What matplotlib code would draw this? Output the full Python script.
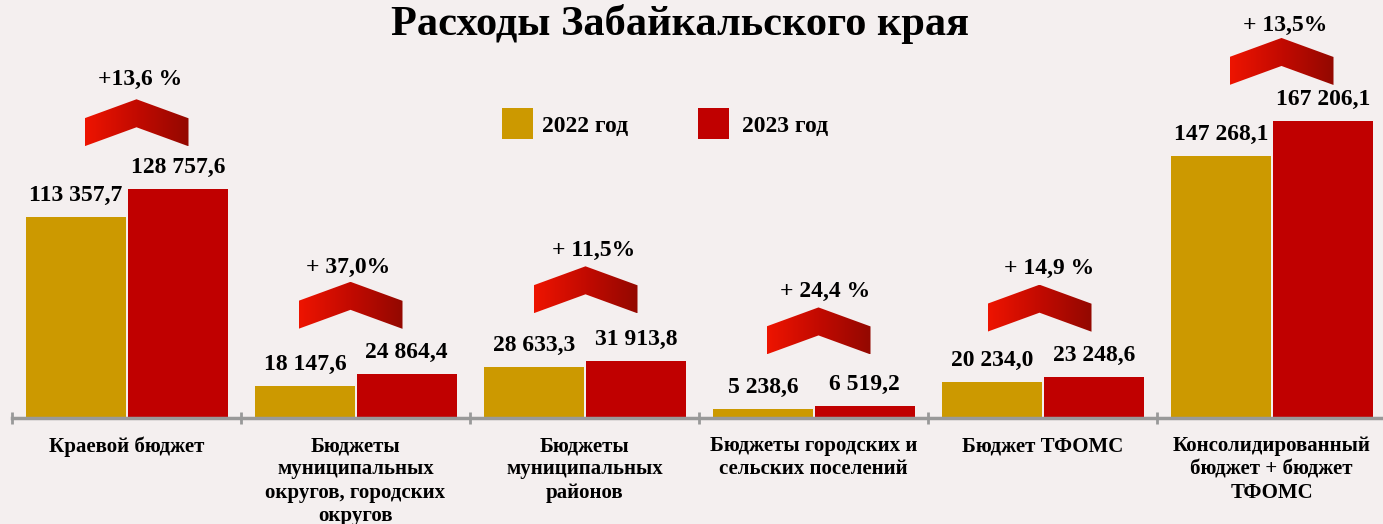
import numpy as np
import matplotlib
matplotlib.use('Agg')
import matplotlib.pyplot as plt
from matplotlib.patches import Polygon, Rectangle
from matplotlib.colors import LinearSegmentedColormap

plt.rcParams['font.family'] = ['Liberation Serif', 'DejaVu Serif']
plt.rcParams['font.weight'] = 'bold'

# data
categories = ['Краевой бюджет',
              'Бюджеты\nмуниципальных\nокругов, городских\nокругов',
              'Бюджеты\nмуниципальных\nрайонов',
              'Бюджеты городских и\nсельских поселений',
              'Бюджет ТФОМС',
              'Консолидированный\nбюджет + бюджет\nТФОМС']
values_2022 = [113357.7, 18147.6, 28633.3, 5238.6, 20234.0, 147268.1]
values_2023 = [128757.6, 24864.4, 31913.8, 6519.2, 23248.6, 167206.1]
labels_2022 = ['113 357,7', '18 147,6', '28 633,3', '5 238,6', '20 234,0', '147 268,1']
labels_2023 = ['128 757,6', '24 864,4', '31 913,8', '6 519,2', '23 248,6', '167 206,1']
growth = ['+13,6 %', '+ 37,0%', '+ 11,5%', '+ 24,4 %', '+ 14,9 %', '+ 13,5%']

# arrow placement tweaks (pixels)
arrow_dx = [10, -5, 1, 5, -3, 10]
arrow_gap = [43, 45, 48, 52, 45, 36]
text_dx = [14, -7, 9, 12, 7, 14]
text_dy = [67, 61, 63, 63, 63, 60]

gold = '#CC9900'
red = '#C00000'
bg = '#F4EFEF'

W, H = 1383, 524
fig = plt.figure(figsize=(W / 100, H / 100), dpi=100, facecolor=bg)
ax = fig.add_axes([12 / W, 106 / H, 1374 / W, 418 / H])
ax.set_facecolor('none')

ymax = 235300
px = ymax / 418.0  # data units per pixel vertically
xpx = 1 / 229.0    # data units per pixel horizontally

x = np.arange(len(categories))
ax.bar(x - 0.221, values_2022, width=0.436, color=gold, zorder=2)
ax.bar(x + 0.224, values_2023, width=0.436, color=red, zorder=2)

for i in range(len(x)):
    ax.annotate(labels_2022[i], (x[i] - 0.221, values_2022[i]), xytext=(0, 8),
                textcoords='offset points', ha='center', va='bottom', fontsize=17)
    ax.annotate(labels_2023[i], (x[i] + 0.224, values_2023[i]), xytext=(0, 8),
                textcoords='offset points', ha='center', va='bottom', fontsize=17)

# chevron arrows with gradient
cmap = LinearSegmentedColormap.from_list('arr', ['#EE1400', '#C20A00', '#930800'])
grad = np.linspace(0, 1, 256).reshape(1, -1)
for i in range(len(x)):
    base = max(values_2022[i], values_2023[i]) + arrow_gap[i] * px
    hw = 52 * xpx
    cx = x[i] + arrow_dx[i] * xpx
    pts = [(cx - hw, base), (cx - hw, base + 28 * px), (cx, base + 47 * px),
           (cx + hw, base + 28 * px), (cx + hw, base), (cx, base + 19 * px)]
    poly = Polygon(pts, closed=True, facecolor='none', edgecolor='none', zorder=3)
    ax.add_patch(poly)
    im = ax.imshow(grad, cmap=cmap, extent=[cx - hw, cx + hw, base, base + 47 * px],
                   aspect='auto', zorder=3, interpolation='bilinear')
    im.set_clip_path(poly)
    ax.text(x[i] + text_dx[i] * xpx, base + text_dy[i] * px, growth[i],
            ha='center', va='center', fontsize=17)

ax.set_xlim(-0.5, len(x) - 0.5)
ax.set_ylim(0, ymax)

for s in ['top', 'right', 'left']:
    ax.spines[s].set_visible(False)
ax.spines['bottom'].set_color('#999999')
ax.spines['bottom'].set_linewidth(2.5)
ax.set_yticks([])
ax.set_xticks(x)
ax.set_xticklabels(categories, fontsize=15, linespacing=1.22)
ax.tick_params(axis='x', which='major', length=0, pad=13)
ax.set_xticks(np.arange(len(x) + 1) - 0.5, minor=True)
ax.tick_params(axis='x', which='minor', length=8, width=2, direction='inout', color='#999999')

# legend
fig.patches.append(Rectangle((502 / W, 1 - 139 / H), 31 / W, 31 / H, transform=fig.transFigure,
                             facecolor=gold, edgecolor='none'))
fig.patches.append(Rectangle((698 / W, 1 - 139 / H), 31 / W, 31 / H, transform=fig.transFigure,
                             facecolor=red, edgecolor='none'))
fig.text(542 / W, 1 - 127 / H, '2022 год', ha='left', va='center', fontsize=17)
fig.text(742 / W, 1 - 127 / H, '2023 год', ha='left', va='center', fontsize=17)

fig.text(680 / W, 1 - 35 / H, 'Расходы Забайкальского края', ha='center', va='baseline', fontsize=30.5)

fig.savefig('out.png', dpi=100, facecolor=bg)
